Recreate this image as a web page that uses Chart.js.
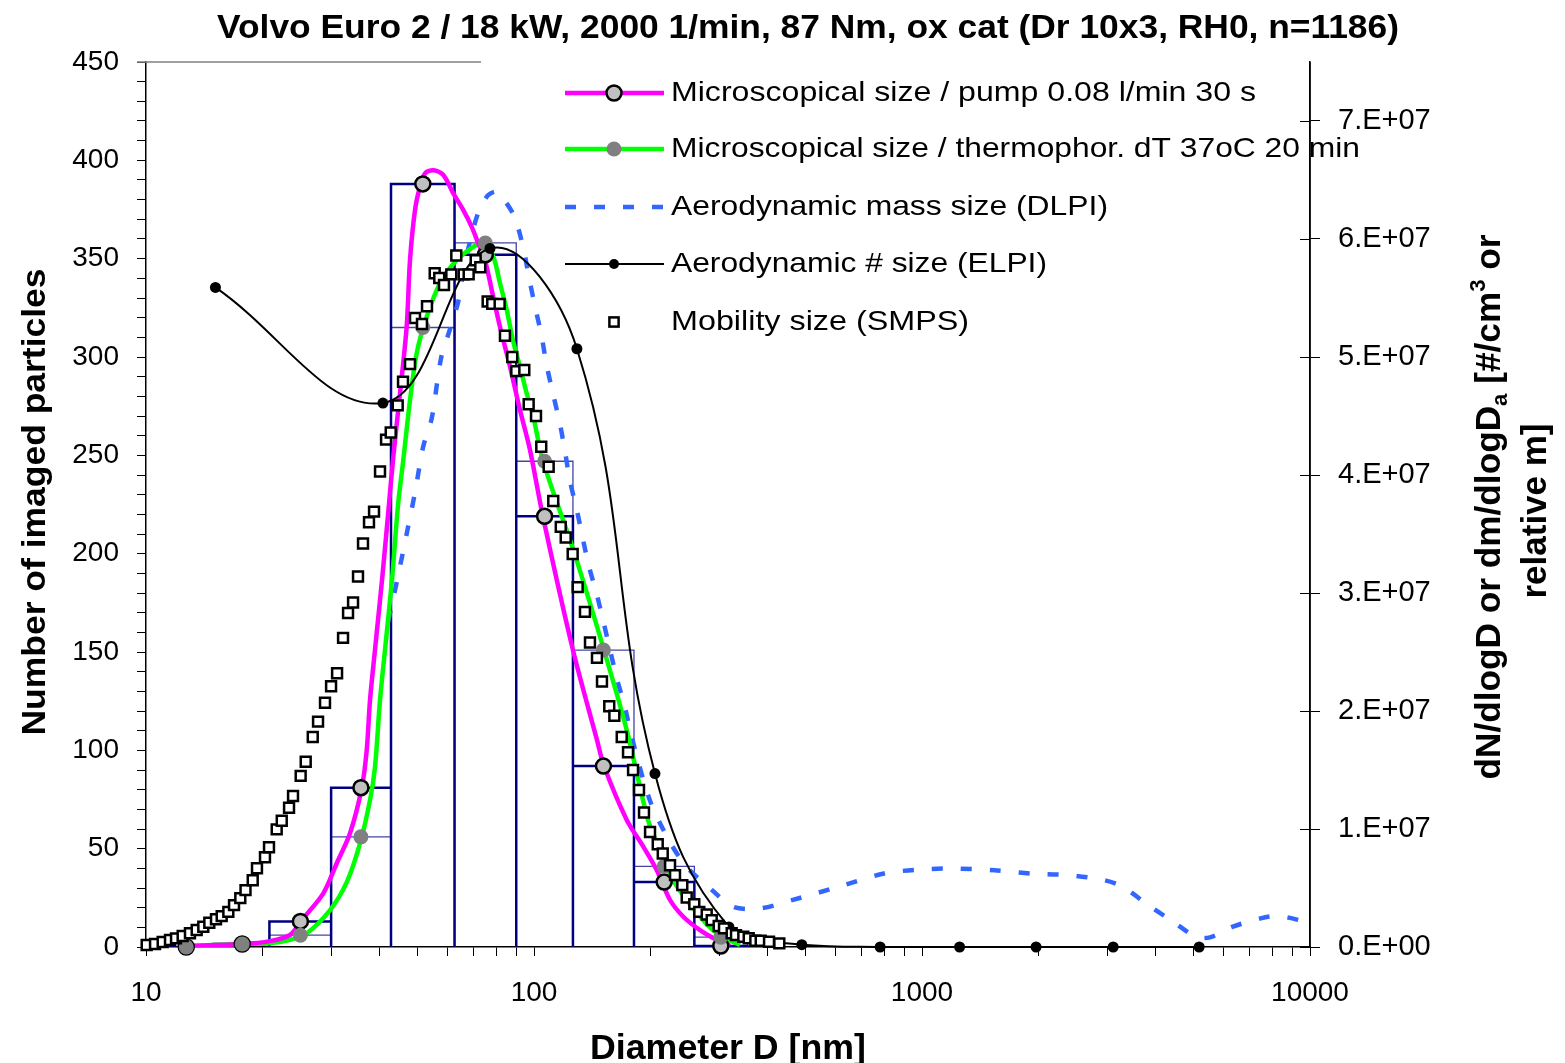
<!DOCTYPE html>
<html>
<head>
<meta charset="utf-8">
<title>Volvo Euro 2 - particle size</title>
<script src="https://cdn.jsdelivr.net/npm/chart.js@4.4.1/dist/chart.umd.min.js"></script>
<style>
html, body { margin:0; padding:0; background:#fff; }
#wrap { width:1565px; height:1063px; }
</style>
</head>
<body>
<div id="wrap"><canvas id="chart" width="1565" height="1063"></canvas></div>
<script>
// histogram bins [nm] and counts of imaged particles
var binEdges = [10.8, 14.9, 20.8, 30, 42.8, 62.4, 90, 126, 181, 259, 355];
var binCenters = [12.7, 17.7, 25.0, 35.8, 51.7, 74.9, 106.5, 151, 216.5, 303];
var pumpCounts = [0, 1.5, 13, 81, 388, 352, 219, 92, 33, 0.5];
var thermoCounts = [0, 1.5, 6, 56, 315, 358, 247, 151, 41, 5];

// smooth fits (left axis)
var pumpFitD = [12.76, 17.68, 20.87, 23.50, 25.08, 28.64, 31.02, 33.56, 35.97, 37.06, 37.79, 39.15, 40.58, 42.05, 43.39, 45.15, 46.97, 47.91, 49.35, 50.83, 52.38, 55.02, 58.38, 61.94, 65.73, 69.10, 71.84, 74.76, 77.80, 81.70, 86.74, 92.03, 97.66, 105.5, 126.0, 145.3, 151.5, 173.4, 191.3, 207.1, 224.2, 242.6, 267.8, 295.7, 320.1];
var pumpFit = [0.5, 1.5, 3.0, 6.1, 13.2, 27.3, 42.6, 57.8, 80.7, 100.2, 125.6, 156.1, 186.6, 219.7, 249.3, 281.5, 315.4, 349.3, 374.7, 386.6, 393.4, 395, 392.5, 383.2, 374.7, 366.2, 357.8, 349.3, 334.1, 315.4, 295.1, 273.0, 252.7, 218.6, 151, 105.3, 92.0, 64.6, 51.0, 39.2, 23.9, 15.4, 8.6, 3.6, 0.5];
var thermoFitD = [12.76, 17.47, 20.87, 23.50, 25.96, 29.81, 32.92, 35.61, 37.79, 38.93, 40.10, 41.30, 43.05, 44.62, 46.04, 47.91, 49.85, 52.90, 57.24, 63.20, 69.77, 73.88, 78.53, 81.70, 85.07, 88.47, 92.03, 95.76, 99.59, 105.5, 126.3, 151.5, 173.4, 196.7, 211.3, 228.2, 247.5, 272.7, 289.2, 307, 339.6];
var thermoFit = [0.5, 1.5, 1.9, 3.6, 7.0, 18.8, 33.0, 52.7, 74.7, 91.7, 125.6, 151, 186.6, 224.7, 247.6, 278, 302, 320.5, 337.5, 349.3, 356, 358.5, 351, 337.6, 323.9, 307.6, 295, 281.5, 269.6, 247.1, 201.9, 151, 110.3, 64.6, 49.3, 34.1, 23.9, 13.7, 8.6, 5.1, 1];

// right axis values, in 1E+06
var dlpiD = [42.1, 44.6, 47.1, 49.4, 51.8, 54.5, 57.6, 60.8, 63.8, 65.7, 68.4, 71.8, 76.1, 80.3, 84.7, 89.3, 93.9, 97.1, 100.6, 104.7, 107.8, 112.1, 116.7, 120.2, 123.8, 128.8, 138.0, 145.1, 150.9, 163.4, 171.6, 178.6, 199.1, 224.2, 247.9, 287.6, 325.9, 382.4, 462.4, 609, 798, 994, 1202, 1538, 1910, 2379, 2955, 3296, 3779, 4436, 5083, 5524, 6331, 7460, 8321, 10000];
var dlpiVal = [27.6, 31.4, 35.2, 38.6, 42.4, 44.8, 49.9, 52.4, 54.7, 57.2, 59.8, 62.2, 63.7, 64.0, 63.1, 61.8, 59.2, 56.7, 54.3, 51.7, 49.3, 46.8, 44.3, 42.0, 39.5, 37.1, 32.5, 29.9, 27.6, 22.8, 20.3, 17.8, 12.4, 8.88, 6.76, 4.82, 3.41, 3.27, 3.97, 5.10, 6.23, 6.57, 6.65, 6.51, 6.23, 6.09, 5.66, 5.10, 3.69, 2.14, 0.87, 0.82, 1.72, 2.43, 2.62, 2.05];
var elpiD = [15.1, 40.8, 77.0, 129, 205, 318, 490, 780, 1250, 1968, 3110, 5180];
var elpiVal = [55.9, 46.1, 59.2, 50.7, 14.7, 1.7, 0.2, 0, 0, 0, 0, 0];
var smpsD = [10.04, 10.55, 11.04, 11.53, 11.95, 12.43, 12.98, 13.51, 14.05, 14.56, 15.15, 15.67, 16.30, 16.86, 17.50, 18.05, 18.84, 19.32, 20.26, 20.75, 21.72, 22.38, 23.37, 23.93, 25.04, 25.80, 26.90, 27.76, 28.93, 29.99, 31.08, 32.20, 33.17, 34.17, 35.19, 36.25, 37.56, 38.70, 40.10, 41.56, 42.73, 44.54, 45.96, 47.91, 49.35, 51.44, 52.99, 55.47, 56.99, 58.61, 61.21, 63.05, 65.88, 67.86, 70.74, 72.70, 75.95, 78.04, 81.55, 84.16, 87.90, 90.01, 94.41, 96.89, 101.2, 104.4, 109.1, 112.1, 117.2, 120.7, 125.8, 129.6, 135.3, 139.4, 145.3, 149.7, 156.3, 161.1, 168.3, 174.7, 180.0, 186.5, 192.1, 199.1, 208.4, 214.7, 224.2, 230.9, 241.1, 247.5, 258.9, 266.7, 278.7, 287.1, 299.2, 308.8, 323.2, 331.6, 346.3, 357.6, 371.9, 384.0, 403.4, 428.8];
var smpsVal = [0.17, 0.25, 0.42, 0.59, 0.73, 0.93, 1.16, 1.44, 1.72, 2.06, 2.35, 2.62, 2.98, 3.55, 4.14, 4.82, 5.66, 6.68, 7.61, 8.45, 9.97, 10.7, 11.8, 12.8, 14.5, 15.7, 17.8, 19.1, 20.7, 22.1, 23.2, 26.2, 28.3, 29.2, 31.4, 34.2, 36.0, 36.9, 40.3, 43.0, 43.6, 45.9, 47.9, 49.4, 53.3, 52.8, 54.3, 57.1, 56.7, 56.1, 57.0, 58.6, 57.0, 57.0, 58.2, 57.6, 54.7, 54.5, 54.5, 51.8, 50.0, 48.8, 48.9, 46.0, 45.0, 42.4, 40.7, 37.8, 35.6, 34.7, 33.3, 30.5, 28.4, 25.8, 24.5, 22.5, 20.4, 19.6, 17.8, 16.5, 15.0, 13.3, 11.4, 9.75, 8.71, 7.92, 6.93, 6.09, 5.24, 4.20, 3.63, 2.98, 2.76, 2.28, 1.78, 1.58, 1.16, 1.01, 0.87, 0.74, 0.53, 0.53, 0.45, 0.31];

var xDecades = [10, 100, 1000, 10000];
var legendNames = [
	"Microscopical size / pump 0.08 l/min 30 s",
	"Microscopical size / thermophor. dT 37oC 20 min",
	"Aerodynamic mass size (DLPI)",
	"Aerodynamic # size (ELPI)",
	"Mobility size (SMPS)"
];
var title = "Volvo Euro 2 / 18 kW, 2000 1/min, 87 Nm, ox cat (Dr 10x3, RH0, n=1186)";

var FONT = '"Liberation Sans", Arial, sans-serif';
var BLUE = '#3366ff';
var DASH = [11, 18];

function pts(xs, ys) {
	var out = [];
	for(var i=0; i<xs.length; i++) out.push({x: xs[i], y: ys[i]});
	return out;
}
// box outline of a histogram
function histOutline(edges, counts) {
	var out = [];
	for(var i=0; i<counts.length; i++) {
		out.push({x: edges[i], y: 0});
		out.push({x: edges[i], y: counts[i]});
		out.push({x: edges[i+1], y: counts[i]});
		out.push({x: edges[i+1], y: 0});
	}
	return out;
}

function drawText(c, txt, x, y, font, width, rot) {
	c.save();
	c.font = font;
	var sx = width ? width / c.measureText(txt).width : 1;
	c.translate(x, y);
	if(rot) c.rotate(rot);
	c.scale(sx, 1);
	c.fillText(txt, 0, 0);
	c.restore();
}

function marker(c, kind, x, y) {
	c.save();
	if(kind == 'pump') {
		c.beginPath(); c.arc(x, y, 7.5, 0, Math.PI*2);
		c.fillStyle = '#c0c0c0'; c.fill();
		c.lineWidth = 2.5; c.strokeStyle = '#000'; c.stroke();
	}
	else if(kind == 'thermo') {
		c.beginPath(); c.arc(x, y, 7.5, 0, Math.PI*2);
		c.fillStyle = '#808080'; c.fill();
	}
	else if(kind == 'elpi') {
		c.beginPath(); c.arc(x, y, 5, 0, Math.PI*2);
		c.fillStyle = '#000'; c.fill();
	}
	else {
		c.fillStyle = '#fff'; c.fillRect(x-4.6, y-4.6, 9.2, 9.2);
		c.lineWidth = 2.5; c.strokeStyle = '#000'; c.strokeRect(x-4.6, y-4.6, 9.2, 9.2);
	}
	c.restore();
}

var extras = {
	id: 'extras',
	afterDatasetsDraw: function(chart) {
		var c = chart.ctx;
		var rows = [93, 149, 207, 264, 322];
		var widths = [585, 689, 437, 376, 298];
		var lines = [['#ff00ff', 4.5, []], ['#00ff00', 4.5, []], [BLUE, 4.5, DASH], ['#000', 2, []], null];
		var kinds = ['pump', 'thermo', null, 'elpi', 'smps'];
		c.save();
		for(var i=0; i<rows.length; i++) {
			if(lines[i]) {
				c.beginPath();
				c.strokeStyle = lines[i][0];
				c.lineWidth = lines[i][1];
				c.setLineDash(lines[i][2]);
				c.moveTo(565, rows[i]); c.lineTo(664, rows[i]);
				c.stroke();
				c.setLineDash([]);
			}
			if(kinds[i]) marker(c, kinds[i], 614, rows[i]);
			c.fillStyle = '#000';
			c.textAlign = 'left';
			c.textBaseline = 'alphabetic';
			drawText(c, legendNames[i], 671, rows[i] + 8, '28px ' + FONT, widths[i]);
		}
		c.restore();
	},
	afterDraw: function(chart) {
		var c = chart.ctx;
		var area = chart.chartArea;
		var y2 = chart.scales.y2;
		c.save();
		// top border stub and right axis line over the legend
		c.strokeStyle = '#808080'; c.lineWidth = 1.5;
		c.beginPath(); c.moveTo(area.left - 9, area.top); c.lineTo(481, area.top); c.stroke();
		c.strokeStyle = '#000'; c.lineWidth = 1.5;
		c.beginPath(); c.moveTo(area.right, area.top); c.lineTo(area.right, area.bottom); c.stroke();
		c.lineWidth = 1;
		y2.ticks.forEach(function(t) {
			var py = Math.round(y2.getPixelForValue(t.value)) + 0.5;
			c.beginPath(); c.moveTo(area.right - 10, py); c.lineTo(area.right, py); c.stroke();
		});

		c.fillStyle = '#000';
		c.textAlign = 'center';
		c.textBaseline = 'alphabetic';
		drawText(c, title, 808, 38, 'bold 33px ' + FONT, 1182);
		drawText(c, "Diameter D [nm]", 728, 1059, 'bold 35px ' + FONT, 276);
		drawText(c, "Number of imaged particles", 45, 502, 'bold 34px ' + FONT, 467, -Math.PI/2);
		drawText(c, "relative m]", 1546, 511, 'bold 35px ' + FONT, 175, -Math.PI/2);

		// right title, first line with sub- and superscript
		var parts = [
			{t: "dN/dlogD or dm/dlogD", s: 35, dy: 0},
			{t: "a", s: 22, dy: 7},
			{t: " [#/cm", s: 35, dy: 0},
			{t: "3", s: 22, dy: -15},
			{t: " or", s: 35, dy: 0}
		];
		var total = 0;
		parts.forEach(function(p) {
			c.font = 'bold ' + p.s + 'px ' + FONT;
			p.w = c.measureText(p.t).width;
			total += p.w;
		});
		var sx = 545 / total;
		c.translate(1500, 507);
		c.rotate(-Math.PI/2);
		c.scale(sx, 1);
		c.textAlign = 'left';
		var px = -total / 2;
		parts.forEach(function(p) {
			c.font = 'bold ' + p.s + 'px ' + FONT;
			c.fillText(p.t, px, p.dy);
			px += p.w;
		});
		c.restore();
	}
};

Chart.defaults.font.family = FONT;
Chart.defaults.color = '#000';

var tickFont = {family: FONT, size: 28};
var rightFont = {family: FONT, size: 29};
var ctx = document.getElementById('chart').getContext('2d');
var chart = new Chart(ctx, {
	type: 'scatter',
	data: {
		datasets: [{
			label: 'SMPS',
			data: pts(smpsD, smpsVal),
			yAxisID: 'y2',
			showLine: false,
			pointStyle: 'rect',
			pointRadius: 7,
			backgroundColor: '#fff',
			borderColor: '#000',
			borderWidth: 2.5,
			clip: false
		}, {
			label: 'ELPI',
			data: pts(elpiD, elpiVal),
			yAxisID: 'y2',
			showLine: true,
			tension: 0.4,
			borderColor: '#000',
			borderWidth: 2,
			pointRadius: 5.5,
			pointBackgroundColor: '#000',
			pointBorderColor: '#000',
			pointBorderWidth: 0,
			clip: false
		}, {
			label: 'thermo markers',
			data: pts(binCenters, thermoCounts),
			yAxisID: 'y',
			showLine: false,
			pointRadius: 7.5,
			backgroundColor: '#808080',
			borderWidth: 0,
			clip: false
		}, {
			label: 'pump markers',
			data: pts(binCenters, pumpCounts),
			yAxisID: 'y',
			showLine: false,
			pointRadius: 7.5,
			backgroundColor: '#c0c0c0',
			borderColor: '#000',
			borderWidth: 2.5,
			clip: false
		}, {
			label: 'pump fit',
			data: pts(pumpFitD, pumpFit),
			yAxisID: 'y',
			showLine: true,
			tension: 0.3,
			borderColor: '#ff00ff',
			borderWidth: 4.5,
			pointRadius: 0
		}, {
			label: 'thermo fit',
			data: pts(thermoFitD, thermoFit),
			yAxisID: 'y',
			showLine: true,
			tension: 0.3,
			borderColor: '#00ff00',
			borderWidth: 4.5,
			pointRadius: 0
		}, {
			label: 'DLPI',
			data: pts(dlpiD, dlpiVal),
			yAxisID: 'y2',
			showLine: true,
			tension: 0.3,
			borderColor: BLUE,
			borderWidth: 4.5,
			borderDash: DASH,
			pointRadius: 0
		}, {
			label: 'pump histogram',
			data: histOutline(binEdges, pumpCounts),
			yAxisID: 'y',
			showLine: true,
			tension: 0,
			borderColor: '#000080',
			borderWidth: 2.5,
			pointRadius: 0
		}, {
			label: 'thermo histogram',
			data: histOutline(binEdges, thermoCounts),
			yAxisID: 'y',
			showLine: true,
			tension: 0,
			borderColor: '#4444a8',
			borderWidth: 1.3,
			pointRadius: 0
		}]
	},
	options: {
		responsive: false,
		animation: false,
		devicePixelRatio: 1,
		layout: { padding: { top: 62, left: 0, right: 0, bottom: 0 } },
		plugins: { legend: { display: false }, tooltip: { enabled: false } },
		scales: {
			x: {
				type: 'logarithmic',
				min: 10,
				max: 10000,
				afterBuildTicks: function(scale) {
					var t = [];
					for(var d=0; d<xDecades.length-1; d++) {
						for(var k=1; k<10; k++) t.push({value: k * xDecades[d]});
					}
					t.push({value: xDecades[xDecades.length-1]});
					scale.ticks = t;
				},
				afterFit: function(scale) { scale.height = 116; },
				border: { color: '#000', width: 1.5 },
				grid: { drawOnChartArea: false, tickLength: 9, tickColor: '#000', tickWidth: 1 },
				ticks: {
					autoSkip: false, maxRotation: 0, padding: 20, font: tickFont, color: '#000',
					callback: function(v) { return xDecades.indexOf(v) >= 0 ? String(v) : ''; }
				}
			},
			y: {
				position: 'left',
				min: 0,
				max: 450,
				afterFit: function(scale) { scale.width = 146; },
				border: { color: '#000', width: 1.5 },
				grid: { drawOnChartArea: false, tickLength: 9, tickColor: '#000', tickWidth: 1 },
				ticks: {
					stepSize: 10, padding: 18, font: tickFont, color: '#000', autoSkip: false,
					callback: function(v) { return v % 50 === 0 ? String(v) : ''; }
				}
			},
			y2: {
				position: 'right',
				min: 0,
				max: 75,
				afterFit: function(scale) { scale.width = 255; },
				border: { color: '#000', width: 1.5 },
				grid: { drawOnChartArea: false, tickLength: 10, tickColor: '#000', tickWidth: 1 },
				ticks: {
					stepSize: 10, includeBounds: false, padding: 18, font: rightFont, color: '#000',
					callback: function(v) { return v === 0 ? '0.E+00' : (v / 10) + '.E+07'; }
				}
			}
		}
	},
	plugins: [extras]
});
</script>
</body>
</html>
